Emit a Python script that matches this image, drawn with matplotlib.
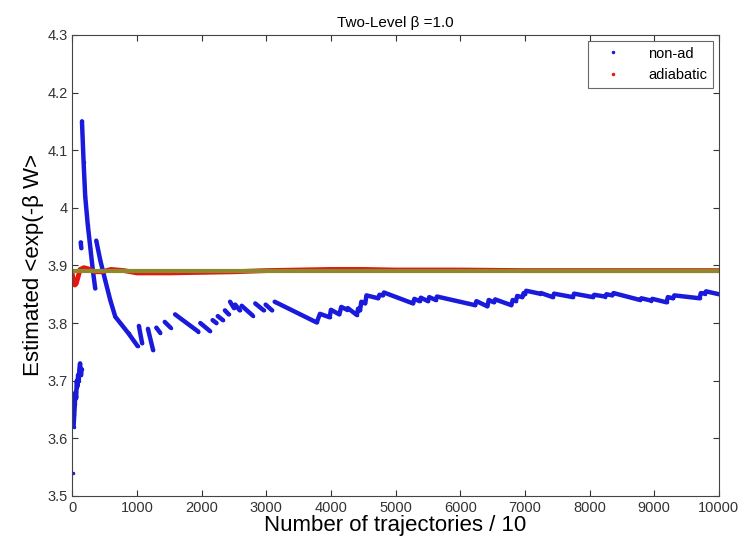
import numpy as np
import matplotlib.pyplot as plt
from matplotlib.ticker import FormatStrFormatter, FuncFormatter
from matplotlib.lines import Line2D

nan = np.nan

# non-ad: running estimate (NaN = visible jump gap)
nonad_x = [5, nan,
           20, 30, 40, 50, 60, 70, 80, 90, 100, 110, 120, 135, 145, nan,
           130, 140, nan,
           150, 175, 200, 240, 280, 320, 355, nan,
           371, 433, 510, 587, 665, 742, 870, 1010, nan,
           1030, 1080, nan,
           1170, 1250, nan,
           1300, 1360, nan,
           1430, 1520, nan,
           1590, 1950, nan,
           1980, 2130, nan,
           2170, 2230, nan,
           2250, 2330, nan,
           2360, 2420, nan,
           2440, 2500, nan,
           2520, 2590, nan,
           2620, 2790, nan,
           2830, 2960, nan,
           2990, 3090, nan,
           3130, 3780, 3830, 3980, 4000, 4130, 4160, 4250, 4260, 4400, 4420,
           4450, 4470, 4530, 4550, 4730, 4750, 4800, 4820, 5270, 5290, 5370,
           5390, 5500, 5520, 5620, 5640, 6230, 6250, 6420, 6440, 6520, 6540,
           6790, 6810, 6860, 6880, 6960, 6980, 7000, 7020, 7230, 7250, 7430,
           7450, 7740, 7760, 8050, 8070, 8240, 8260, 8350, 8370, 8780, 8800,
           8950, 8970, 9190, 9210, 9290, 9310, 9700, 9720, 9780, 9800, 10000]
nonad_y = [3.54, nan,
           3.62, 3.64, 3.66, 3.68, 3.67, 3.70, 3.69, 3.71, 3.70, 3.72, 3.73, 3.71, 3.72, nan,
           3.94, 3.93, nan,
           4.15, 4.08, 4.02, 3.97, 3.93, 3.89, 3.86, nan,
           3.943, 3.909, 3.874, 3.840, 3.811, 3.800, 3.782, 3.760, nan,
           3.795, 3.765, nan,
           3.790, 3.753, nan,
           3.792, 3.783, nan,
           3.802, 3.792, nan,
           3.815, 3.785, nan,
           3.800, 3.786, nan,
           3.805, 3.800, nan,
           3.812, 3.805, nan,
           3.822, 3.815, nan,
           3.837, 3.826, nan,
           3.832, 3.822, nan,
           3.830, 3.813, nan,
           3.834, 3.822, nan,
           3.832, 3.822, nan,
           3.837, 3.801, 3.816, 3.810, 3.823, 3.815, 3.828, 3.823, 3.826, 3.814, 3.825,
           3.822, 3.837, 3.834, 3.848, 3.843, 3.849, 3.848, 3.853, 3.834, 3.842, 3.838,
           3.844, 3.838, 3.845, 3.840, 3.846, 3.831, 3.838, 3.829, 3.840, 3.836, 3.841,
           3.831, 3.840, 3.838, 3.847, 3.845, 3.852, 3.850, 3.856, 3.851, 3.852, 3.845,
           3.851, 3.845, 3.851, 3.845, 3.849, 3.846, 3.850, 3.848, 3.852, 3.840, 3.843,
           3.839, 3.842, 3.836, 3.845, 3.843, 3.848, 3.843, 3.852, 3.851, 3.855, 3.850]

# adiabatic
adi_x = [0, 20, 40, 60, 90, 120, 180, 250, 350, 460, 600, 800, 1000, 1500,
         2000, 2500, 3000, 3500, 4000, 4500, 5000, 6000, 7000, 8000, 9000, 10000]
adi_y = [3.885, 3.872, 3.866, 3.868, 3.880, 3.893, 3.896, 3.894, 3.889, 3.889,
         3.893, 3.891, 3.887, 3.887, 3.888, 3.889, 3.891, 3.892, 3.893, 3.893,
         3.892, 3.892, 3.891, 3.891, 3.891, 3.891]

# exact value line
exact_x = [0, 10000]
exact_y = [3.891, 3.891]

plt.rcParams['font.family'] = ['Liberation Sans', 'DejaVu Sans']

fig = plt.figure(figsize=(7.45, 5.45), dpi=100)
ax = fig.add_axes([0.097, 0.09, 0.868, 0.846])

ax.plot(nonad_x, nonad_y, color='#1a1adc', lw=3.2, marker='.', ms=3,
        solid_capstyle='round')
ax.plot(adi_x, adi_y, color='#e8140f', lw=3.5)
ax.plot(exact_x, exact_y, color='#8c8a2c', lw=3)

ax.set_xlim(0, 10000)
ax.set_ylim(3.5, 4.3)
ax.set_xticks(np.arange(0, 10001, 1000))
ax.set_yticks(np.arange(3.5, 4.31, 0.1))
ax.yaxis.set_major_formatter(FuncFormatter(lambda v, p: '%g' % round(v, 1)))
ax.tick_params(direction='in', top=True, right=True, labelsize=10.5,
               length=4, colors='#333333', labelcolor='#333333')
for s in ax.spines.values():
    s.set_color('#444444')
    s.set_linewidth(0.8)

ax.set_title('Two-Level β =1.0', fontsize=11, pad=6)
ax.set_xlabel('Number of trajectories / 10', fontsize=16, labelpad=0)
ax.set_ylabel('Estimated <exp(-β W>', fontsize=16, labelpad=2)

handles = [Line2D([], [], ls='none', marker='.', ms=3, color='#1a1adc'),
           Line2D([], [], ls='none', marker='.', ms=3, color='#e8140f')]
leg = ax.legend(handles, ['non-ad', 'adiabatic'], loc='upper right',
                fontsize=10.5, fancybox=False, edgecolor='#444444',
                borderaxespad=0.4, handlelength=2.5, handletextpad=1.2)
leg.get_frame().set_linewidth(0.8)

fig.savefig('out.png', dpi=100, facecolor='white')
